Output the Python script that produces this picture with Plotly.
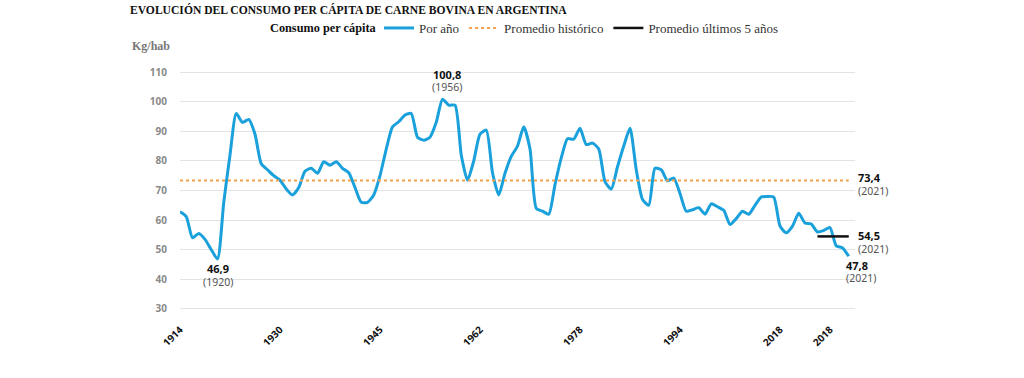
import plotly.graph_objects as go

years = list(range(1914, 2022))
consumo = [
    62.8, 61.2, 54.0, 55.5, 53.5, 50.0, 46.9, 66.0, 82.0, 96.0,   # 1914-1923
    93.0, 94.0, 89.0, 79.0, 77.0, 75.0, 73.5, 70.5, 68.5, 71.0,   # 1924-1933
    76.5, 77.5, 75.8, 79.7, 78.5, 79.7, 77.5, 76.0, 71.0, 66.0,   # 1934-1943
    66.0, 68.5, 75.0, 84.0, 91.5, 93.2, 95.5, 96.0, 88.0, 87.0,   # 1944-1953
    88.0, 93.0, 100.8, 98.8, 98.8, 82.0, 73.5, 80.0, 89.0, 90.4,  # 1954-1963
    76.0, 68.5, 75.8, 81.5, 85.0, 91.5, 84.0, 64.0, 63.0, 62.0,   # 1964-1973
    72.0, 81.0, 87.5, 87.3, 91.0, 85.5, 86.0, 84.0, 73.0, 70.5,   # 1974-1983
    78.0, 85.0, 91.0, 77.0, 67.0, 65.0, 77.5, 77.0, 73.3, 74.2,   # 1984-1993
    69.0, 63.0, 63.5, 64.2, 62.0, 65.5, 64.5, 63.3, 58.5, 60.5,   # 1994-2003
    63.0, 62.0, 65.0, 67.8, 68.0, 67.8, 58.0, 55.7, 58.0, 62.3,   # 2004-2013
    59.0, 58.7, 56.0, 56.5, 57.5, 51.3, 50.6, 47.8                # 2014-2021
]

hist_years = [1914, 2021]
hist_avg = [73.4, 73.4]
last5_years = [2016, 2021]
last5_avg = [54.5, 54.5]

tick_years = [1914, 1930, 1946, 1962, 1978, 1994, 2010, 2018]
tick_labels = ["1914", "1930", "1945", "1962", "1978", "1994", "2018", "2018"]
y_ticks = [30, 40, 50, 60, 70, 80, 90, 100, 110]

BLUE = "#1aa0db"
ORANGE = "#f5a04a"

fig = go.Figure()
fig.add_trace(go.Scatter(
    x=years, y=consumo, mode="lines", name="Por año",
    line=dict(color=BLUE, width=3, shape="spline", smoothing=0.6),
))
fig.add_trace(go.Scatter(
    x=hist_years, y=hist_avg, mode="lines", name="Promedio histórico",
    line=dict(color=ORANGE, width=2, dash="dot"),
))
fig.add_trace(go.Scatter(
    x=last5_years, y=last5_avg, mode="lines", name="Promedio últimos 5 años",
    line=dict(color="#111111", width=2.5),
))

sans = "Noto Sans"
serif = "Liberation Serif"

L, R, T, B = 180, 169, 60, 63
PW, PH = 1024 - L - R, 378 - T - B

ann = []
def label(x, y, val, yr, xref="x", xanchor="center"):
    ann.append(dict(x=x, y=y, xref=xref, yref="y", text=f"<b>{val}</b>", showarrow=False,
                    xanchor=xanchor, yanchor="middle", font=dict(family=sans, size=11, color="#111")))
    ann.append(dict(x=x, y=y - 4.5, xref=xref, yref="y", text=yr, showarrow=False,
                    xanchor=xanchor, yanchor="middle", font=dict(family=sans, size=10.5, color="#555")))

label(1920, 43.6, "46,9", "(1920)")
label(1956.7, 109.3, "100,8", "(1956)")
label(1.002, 74.4, "73,4", "(2021)", xref="paper", xanchor="left")
label(1.002, 54.8, "54,5", "(2021)", xref="paper", xanchor="left")
label(0.984, 44.8, "47,8", "(2021)", xref="paper", xanchor="left")

ann.append(dict(x=(130 - L) / PW, y=1 + (T - 46) / PH, xref="paper", yref="paper",
                text="<b>Kg/hab</b>", showarrow=False, xanchor="left", yanchor="middle",
                font=dict(family=serif, size=12, color="#777")))
ann.append(dict(x=(268 - L) / PW, y=1 + (T - 28) / PH, xref="paper", yref="paper",
                text="<b>Consumo per cápita</b>", showarrow=False, xanchor="left", yanchor="middle",
                font=dict(family=serif, size=12.3, color="#111")))

fig.update_layout(
    width=1024, height=378,
    margin=dict(l=L, r=R, t=T, b=B, autoexpand=False),
    paper_bgcolor="white", plot_bgcolor="white",
    title=dict(text="<b>EVOLUCIÓN DEL CONSUMO PER CÁPITA DE CARNE BOVINA EN ARGENTINA</b>",
               x=130 / 1024, xanchor="left", xref="container",
               y=1 - 10 / 378, yanchor="middle", yref="container",
               font=dict(family=serif, size=11.6, color="#111")),
    legend=dict(orientation="h", x=(379 - L) / PW, xanchor="left",
                y=1 + (T - 28) / PH, yanchor="middle",
                font=dict(family=serif, size=13, color="#333"),
                valign="middle",
                bgcolor="rgba(0,0,0,0)"),
    annotations=ann,
    showlegend=True,
)
fig.update_xaxes(range=[1914, 2022], tickmode="array", tickvals=tick_years, ticktext=tick_labels,
                 tickangle=-45, showgrid=False, zeroline=False, showline=False, automargin=False,
                 ticks="outside", ticklen=4, tickcolor="rgba(0,0,0,0)",
                 tickfont=dict(family=sans, size=10, color="#111", weight="bold"))
fig.update_yaxes(range=[27.97, 114.05], tickmode="array", tickvals=y_ticks, automargin=False,
                 showgrid=True, gridcolor="#e3e3e3", gridwidth=1, zeroline=False, showline=False,
                 ticks="outside", ticklen=10, tickcolor="rgba(0,0,0,0)",
                 tickfont=dict(family=sans, size=10, color="#8a8a8a", weight="bold"))

fig.write_html("out.html", config={"displayModeBar": False},
               post_script="document.body.style.margin='0px';")
